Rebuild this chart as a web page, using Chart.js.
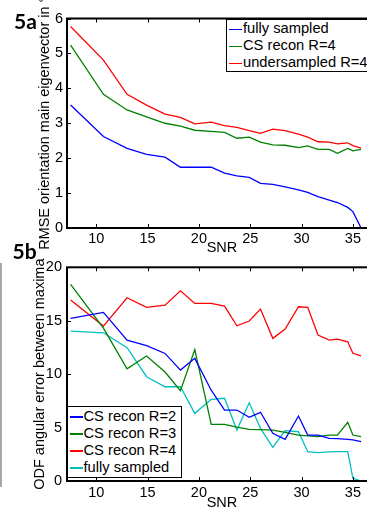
<!DOCTYPE html>
<html>
<head>
<meta charset="utf-8">
<script src="https://cdn.jsdelivr.net/npm/chart.js@4.4.1/dist/chart.umd.min.js"></script>
<style>
html,body{margin:0;padding:0;background:#fff;overflow:hidden;}
#page{position:relative;width:367px;height:508px;overflow:hidden;}
canvas{position:absolute;left:0;}
#c1{top:0;}
#c2{top:250px;}
.tag{position:absolute;font-family:Lato,sans-serif;font-weight:700;font-size:21px;line-height:21px;color:#000;}
.legend{position:absolute;border:1.5px solid #000;background:#fff;font-family:"Liberation Sans",Arial,sans-serif;font-size:14.7px;color:#000;white-space:nowrap;}
.legend div{line-height:17px;height:17px;}
.legend span{display:inline-block;width:13px;height:1.4px;vertical-align:middle;margin:0 1px 0 2px;}
#bar{position:absolute;left:0;top:263px;width:2px;height:224px;background:#a8a8a8;}
</style>
</head>
<body>
<div id="page">
  <canvas id="c1" width="380" height="257"></canvas>
  <canvas id="c2" width="380" height="266"></canvas>
  <div id="bar"></div>
  <div class="tag" style="left:14px;top:9.7px">5a</div>
  <div class="tag" style="left:12.5px;top:239.7px">5b</div>
  <div class="legend" id="leg1" style="left:226px;top:18.5px;width:170px;padding:0.8px 0 0 0;"></div>
  <div class="legend" id="leg2" style="left:66.5px;top:406px;width:113px;padding:1px 0 1px 0;"></div>
</div>
<script>
// SNR positions (shared by both panels)
const snr = [7.5, 10.7, 13.0, 14.9, 16.7, 18.2, 19.6, 21.2, 22.5, 23.7, 24.9, 26.0, 27.2, 28.4, 29.7, 30.6, 31.6, 32.7, 33.5, 34.5, 35.0, 35.8];

// panel 5a: RMSE orientation of main eigenvector
const rmseFull  = [3.52, 2.62, 2.28, 2.11, 2.03, 1.74, 1.74, 1.74, 1.57, 1.49, 1.45, 1.28, 1.25, 1.18, 1.09, 1.02, 0.90, 0.80, 0.73, 0.59, 0.47, 0.0];
const rmseCS4   = [5.24, 3.83, 3.38, 3.18, 3.00, 2.92, 2.80, 2.77, 2.74, 2.57, 2.60, 2.46, 2.38, 2.37, 2.30, 2.35, 2.25, 2.25, 2.14, 2.28, 2.21, 2.25];
const rmseUnder = [5.77, 4.81, 3.83, 3.52, 3.26, 3.17, 2.98, 3.03, 2.93, 2.88, 2.79, 2.71, 2.83, 2.79, 2.69, 2.60, 2.47, 2.46, 2.41, 2.44, 2.36, 2.29];

// panel 5b: ODF angular error between maxima
const odfR2   = [15.22, 15.78, 13.19, 12.66, 11.94, 10.38, 11.48, 8.5, 6.64, 6.64, 5.96, 6.43, 4.46, 3.90, 6.08, 4.30, 4.30, 3.99, 3.97, 3.90, 3.85, 3.68];
const odfR3   = [18.4, 14.3, 10.5, 11.7, 10.2, 8.45, 12.3, 5.3, 5.3, 5.05, 4.83, 4.8, 4.77, 4.55, 4.30, 4.22, 4.15, 4.3, 4.3, 5.49, 4.3, 4.15];
const odfR4   = [16.93, 14.5, 17.15, 16.25, 16.46, 17.80, 16.62, 16.62, 16.37, 14.53, 14.97, 16.09, 13.35, 14.22, 16.31, 16.25, 13.66, 13.19, 13.28, 13.03, 11.95, 11.72];
const odfFull = [14.03, 13.87, 12.47, 9.76, 8.82, 8.82, 6.33, 7.64, 7.74, 4.77, 7.32, 4.93, 3.15, 4.71, 4.61, 2.74, 2.65, 2.72, 2.74, 2.74, 0.25, 0.0];

const labels5a = ["fully sampled", "CS recon R=4", "undersampled R=4"];
const colors5a = ["#0000ff", "#008000", "#ff0000"];
const labels5b = ["CS recon R=2", "CS recon R=3", "CS recon R=4", "fully sampled"];
const colors5b = ["#0000ff", "#008000", "#ff0000", "#00bfbf"];

const xTicks = [10, 15, 20, 25, 30, 35];

function pts(vals) {
  return snr.map((s, i) => ({x: s, y: vals[i]}));
}

function ds(label, vals, color) {
  return {label: label, data: pts(vals), borderColor: color, backgroundColor: color,
          borderWidth: 1.3, pointRadius: 0, tension: 0, fill: false};
}

// matlab style box with inward ticks
const boxTicks = {
  id: "boxTicks",
  afterDraw(chart) {
    const {ctx, chartArea: a, scales: {x, y}} = chart;
    ctx.save();
    ctx.strokeStyle = "#000";
    ctx.lineWidth = 1;
    ctx.beginPath();
    x.ticks.forEach(t => {
      const px = Math.round(x.getPixelForValue(t.value)) + 0.5;
      ctx.moveTo(px, a.bottom); ctx.lineTo(px, a.bottom - 4);
      ctx.moveTo(px, a.top); ctx.lineTo(px, a.top + 4);
    });
    y.ticks.forEach(t => {
      const py = Math.round(y.getPixelForValue(t.value)) + 0.5;
      ctx.moveTo(a.left, py); ctx.lineTo(a.left + 4, py);
      ctx.moveTo(a.right, py); ctx.lineTo(a.right - 4, py);
    });
    ctx.stroke();
    ctx.lineWidth = 2;
    ctx.strokeRect(a.left, a.top, a.right - a.left, a.bottom - a.top);
    ctx.restore();
  }
};

const font = {family: "'Liberation Sans', Arial, sans-serif", size: 14.5};

function makeChart(id, datasets, o) {
  return new Chart(id, {
    type: "line",
    data: {datasets: datasets},
    plugins: [boxTicks],
    options: {
      responsive: false,
      animation: false,
      layout: {padding: o.pad},
      plugins: {legend: {display: false}, tooltip: {enabled: false}},
      scales: {
        x: {
          type: "linear", min: 7.15, max: 37.35,
          afterBuildTicks: s => { s.ticks = xTicks.map(v => ({value: v})); },
          afterFit: s => { s.height = o.xh; },
          grid: {display: false, drawTicks: false},
          border: {display: false},
          ticks: {color: "#000", font: font, padding: o.xpad, maxRotation: 0},
          title: {display: true, text: "SNR", color: "#000", font: font, padding: {top: 0, bottom: 0}}
        },
        y: {
          min: o.ymin, max: o.ymax,
          afterFit: s => { s.width = o.yw; },
          grid: {display: false, drawTicks: false},
          border: {display: false},
          ticks: {color: "#000", font: font, padding: o.ypad, stepSize: o.step},
          title: {display: true, text: o.ytitle, color: "#000", font: font, padding: {top: 0, bottom: 0}}
        }
      }
    }
  });
}

makeChart("c1", [
  ds(labels5a[0], rmseFull, colors5a[0]),
  ds(labels5a[1], rmseCS4, colors5a[1]),
  ds(labels5a[2], rmseUnder, colors5a[2])
], {pad: {left: 36.3, top: 18.5, right: 3, bottom: 0}, xh: 29, yw: 30.7, xpad: 2, ypad: 4,
    ymin: 0, ymax: 6, step: 1, ytitle: "RMSE orientation main eigenvector in °"});

makeChart("c2", [
  ds(labels5b[0], odfR2, colors5b[0]),
  ds(labels5b[1], odfR3, colors5b[1]),
  ds(labels5b[2], odfR4, colors5b[2]),
  ds(labels5b[3], odfFull, colors5b[3])
], {pad: {left: 31.3, top: 17.3, right: 3, bottom: 4}, xh: 31, yw: 35.7, xpad: 3, ypad: 5,
    ymin: 0, ymax: 20, step: 5, ytitle: "ODF angular error between maxima"});

function legend(elId, labels, colors) {
  const el = document.getElementById(elId);
  labels.forEach((t, i) => {
    const row = document.createElement("div");
    const sw = document.createElement("span");
    sw.style.background = colors[i];
    row.appendChild(sw);
    row.appendChild(document.createTextNode(t));
    el.appendChild(row);
  });
}
legend("leg1", labels5a, colors5a);
legend("leg2", labels5b, colors5b);
</script>
</body>
</html>
